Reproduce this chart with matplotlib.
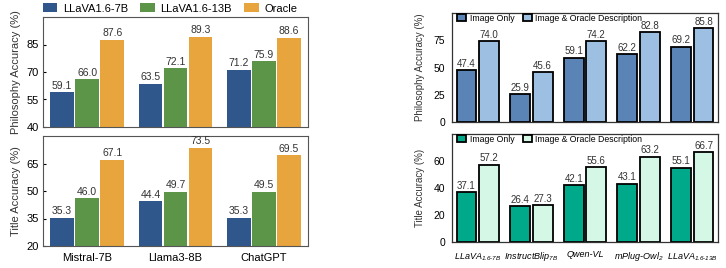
import numpy as np
import matplotlib.pyplot as plt

plt.rcParams['font.family'] = ['Liberation Sans', 'DejaVu Sans']
plt.rcParams['mathtext.fontset'] = 'custom'
plt.rcParams['mathtext.rm'] = 'Liberation Sans:italic'
plt.rcParams['mathtext.it'] = 'Liberation Sans:italic'

# left panels
llm_names = ['Mistral-7B', 'Llama3-8B', 'ChatGPT']
llm_series = ['LLaVA1.6-7B', 'LLaVA1.6-13B', 'Oracle']
phil_llm = [[59.1, 63.5, 71.2], [66.0, 72.1, 75.9], [87.6, 89.3, 88.6]]
title_llm = [[35.3, 44.4, 35.3], [46.0, 49.7, 49.5], [67.1, 73.5, 69.5]]
llm_colors = ['#2f578b', '#5c9548', '#e9a53d']

# right panels
vlm_names = [r'LLaVA$_{1.6\text{-}7B}$', r'InstructBlip$_{7B}$', 'Qwen-VL',
             r'mPlug-Owl$_{2}$', r'LLaVA$_{1.6\text{-}13B}$']
vlm_series = ['Image Only', 'Image & Oracle Description']
phil_vlm = [[47.4, 25.9, 59.1, 62.2, 69.2], [74.0, 45.6, 74.2, 82.8, 85.8]]
title_vlm = [[37.1, 26.4, 42.1, 43.1, 55.1], [57.2, 27.3, 55.6, 63.2, 66.7]]
phil_colors = ['#5b84b6', '#9dbfe1']
title_colors = ['#00a98a', '#d5f8e6']

fig = plt.figure(figsize=(7.26, 2.68), dpi=100)
W, H = 726, 268


def box(x0, y0, x1, y1):
    return [x0 / W, 1 - y1 / H, (x1 - x0) / W, (y1 - y0) / H]


def left_panel(ax, data, ylim, ticks, ylabel, show_x):
    x = np.arange(len(llm_names))
    w = 0.265
    step = 0.283
    for i, vals in enumerate(data):
        bars = ax.bar(x + (i - 1) * step, vals, w, color=llm_colors[i], label=llm_series[i])
        for b, v in zip(bars, vals):
            ax.text(b.get_x() + b.get_width() / 2, v + 0.8, '%.1f' % v,
                    ha='center', va='bottom', fontsize=7.5, color='#333333')
    ax.set_xlim(-0.5, 2.5)
    ax.set_ylim(*ylim)
    ax.set_yticks(ticks)
    ax.tick_params(axis='y', direction='in', length=2, labelsize=8, pad=3)
    ax.set_ylabel(ylabel, fontsize=8, color='#333333', labelpad=4)
    ax.set_xticks(x)
    if show_x:
        ax.set_xticklabels(llm_names, fontsize=8)
        ax.tick_params(axis='x', length=0, pad=5)
    else:
        ax.set_xticklabels([])
        ax.tick_params(axis='x', length=0)
    for s in ax.spines.values():
        s.set_color('#555555')
        s.set_linewidth(0.8)


def right_panel(ax, data, colors, ylim, ticks, ylabel, show_x):
    x = np.arange(len(vlm_names))
    w = 0.37
    step = 0.42
    for i, vals in enumerate(data):
        bars = ax.bar(x + (i - 0.5) * step, vals, w, color=colors[i],
                      edgecolor='black', linewidth=1.3, label=vlm_series[i])
        for b, v in zip(bars, vals):
            ax.text(b.get_x() + b.get_width() / 2, v + 1.0, '%.1f' % v,
                    ha='center', va='bottom', fontsize=7, color='#333333')
    ax.set_xlim(-0.48, 4.48)
    ax.set_ylim(*ylim)
    ax.set_yticks(ticks)
    ax.tick_params(axis='y', length=0, labelsize=7.5, pad=5)
    ax.set_ylabel(ylabel, fontsize=7, color='#333333', labelpad=6)
    ax.set_xticks(x)
    if show_x:
        ax.set_xticklabels(vlm_names, fontsize=6.5, style='italic')
        ax.tick_params(axis='x', length=0, pad=6)
    else:
        ax.set_xticklabels([])
        ax.tick_params(axis='x', length=0)
    for s in ax.spines.values():
        s.set_color('#333333')
        s.set_linewidth(0.9)
    ax.legend(loc='upper left', ncol=2, frameon=False, fontsize=6.3,
              handlelength=1.0, handleheight=1.0, handletextpad=0.4,
              columnspacing=1.0, borderpad=0.0, borderaxespad=0.0,
              bbox_to_anchor=(0.02, 0.995))


ax1 = fig.add_axes(box(43, 17, 308, 127))
left_panel(ax1, phil_llm, (40, 100), [40, 55, 70, 85], 'Philosophy Accuracy (%)', False)
ax1.legend(loc='lower left', ncol=3, frameon=False, fontsize=8,
           handlelength=1.3, handleheight=0.9, handletextpad=0.5,
           columnspacing=1.1, borderpad=0.0, borderaxespad=0.0,
           bbox_to_anchor=(0.0, 1.03))

ax2 = fig.add_axes(box(43, 136, 308, 246))
left_panel(ax2, title_llm, (20, 80), [20, 35, 50, 65], 'Title Accuracy (%)', True)

ax3 = fig.add_axes(box(452, 13, 718, 122))
right_panel(ax3, phil_vlm, phil_colors, (0, 100), [0, 25, 50, 75], 'Philosophy Accuracy (%)', False)

ax4 = fig.add_axes(box(452, 134, 718, 242))
right_panel(ax4, title_vlm, title_colors, (0, 80), [0, 20, 40, 60], 'Title Accuracy (%)', True)

fig.savefig('out.png', dpi=100)
